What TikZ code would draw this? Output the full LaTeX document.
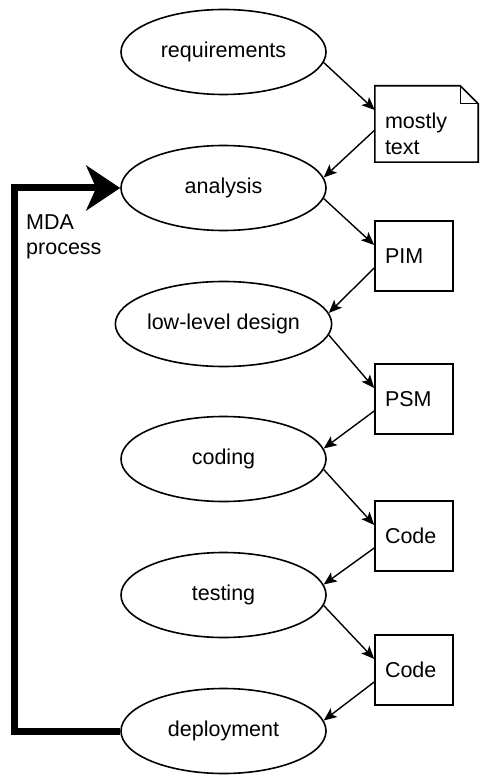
\documentclass[tikz,border=0pt]{standalone}
\usepackage{fontspec}
\setmainfont{Liberation Sans}
\usetikzlibrary{arrows.meta,shapes.geometric}
\begin{document}
\begin{tikzpicture}[x=1pt,y=-1pt,
  font=\fontsize{21.5}{26}\selectfont,
  stage/.style={draw, ellipse, line width=1.6pt, minimum width=205pt, minimum height=85pt, inner sep=0pt},
  artefact/.style={draw, rectangle, line width=1.6pt, minimum height=70pt, text width=58pt, inner xsep=10pt, inner ysep=0pt, align=left},
  notebox/.style={rectangle, minimum width=103pt, minimum height=76pt, inner sep=0pt},
  flow/.style={line width=1.4pt, -{Stealth[length=13pt,width=11pt,inset=3pt]}},
  loopline/.style={line width=7pt, -{Stealth[length=34pt,width=45pt,inset=10pt]}},
]
\fill[white] (0,0) rectangle (490,783);
\useasboundingbox (0,0) rectangle (490,783);

% stages
\node[stage] (req)    at (223.5,52)  {requirements};
\node[stage] (ana)    at (223.5,188) {analysis};
\node[stage] (lld)    at (223.5,324) {low-level design};
\node[stage] (cod)    at (223.5,459) {coding};
\node[stage] (tst)    at (223.5,595) {testing};
\node[stage] (dep)    at (223.5,731) {deployment};

% note
\node[notebox] (note) at (426.5,124) {};
\draw[line width=1.6pt, line join=miter]
  (note.north west) -- ([xshift=-18pt]note.north east)
  -- ([yshift=-18pt]note.north east) -- (note.south east)
  -- (note.south west) -- cycle;
\draw[line width=1.4pt]
  ([xshift=-18pt]note.north east) -- ([xshift=-18pt,yshift=-18pt]note.north east)
  -- ([yshift=-18pt]note.north east);
\node[align=left, text width=83pt, inner sep=0pt] (notetext) at ([yshift=-10pt]note.center) {mostly\\text};

% artefacts
\node[artefact] (pim)  at (414,256) {PIM};
\node[artefact] (psm)  at (414,399) {PSM};
\node[artefact] (codeA) at (414,536) {Code};
\node[artefact] (codeB) at (414,670) {Code};

% flows
\draw[flow] (req.-6) -- ([yshift=14pt]note.west);
\draw[flow] ([yshift=-6pt]note.west) -- (ana.6);
\draw[flow] (ana.-6) -- ([yshift=11pt]pim.west);
\draw[flow] ([yshift=-12pt]pim.west) -- (lld.6);
\draw[flow] (lld.-6) -- ([yshift=11pt]psm.west);
\draw[flow] ([yshift=-12pt]psm.west) -- (cod.6);
\draw[flow] (cod.-6) -- ([yshift=11pt]codeA.west);
\draw[flow] ([yshift=-12pt]codeA.west) -- (tst.6);
\draw[flow] (tst.-6) -- ([yshift=11pt]codeB.west);
\draw[flow] ([yshift=-12pt]codeB.west) -- (dep.6);

% MDA loop
\coordinate (lb) at (14,731);
\coordinate (lt) at (14,188);
\draw[loopline, line join=miter] (dep.west) -- (lb) -- (lt) -- (ana.west);
\node[align=left, anchor=west, inner sep=0pt, font=\fontsize{21.5}{25}\selectfont] (mda) at (26,237) {MDA\\process};
\end{tikzpicture}
\end{document}
